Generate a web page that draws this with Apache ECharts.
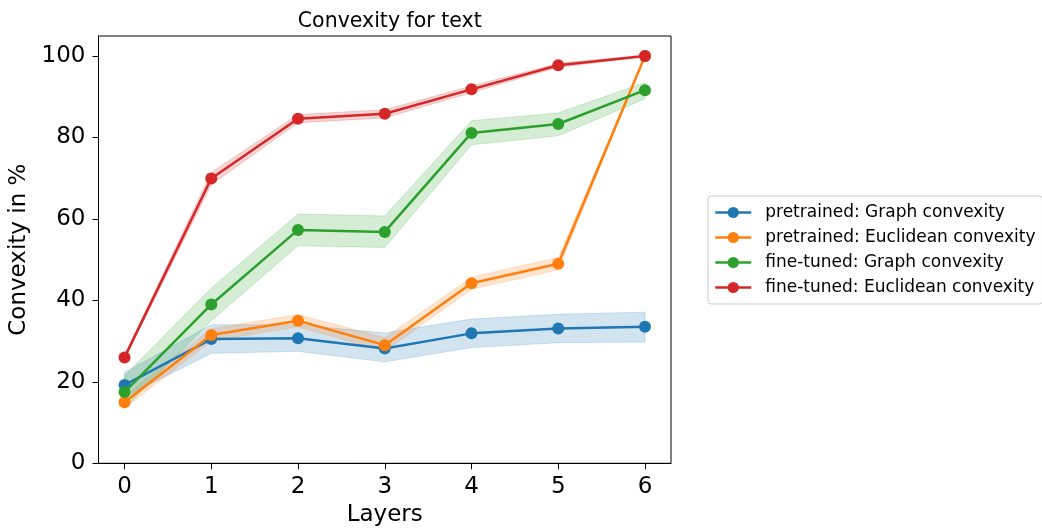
<!DOCTYPE html>
<html>
<head>
<meta charset="utf-8">
<script src="https://cdn.jsdelivr.net/npm/echarts@6/dist/echarts.min.js"></script>
<style>
  html, body { margin: 0; padding: 0; background: #fff; }
  #chart { width: 1042px; height: 529px; }
</style>
</head>
<body>
<div id="chart"></div>
<script>
// Layers on the x axis and tick values
const layers = [0, 1, 2, 3, 4, 5, 6];
const xTicks = [0, 1, 2, 3, 4, 5, 6];
const yTicks = [0, 20, 40, 60, 80, 100];

const seriesNames = [
  'pretrained: Graph convexity',
  'pretrained: Euclidean convexity',
  'fine-tuned: Graph convexity',
  'fine-tuned: Euclidean convexity'
];

// Mean convexity (%) per layer
const ptGraph     = [19.2, 30.5, 30.7, 28.2, 31.9, 33.1, 33.5];
const ptEuclid    = [15.0, 31.5, 35.0, 29.0, 44.2, 49.0, 100.0];
const ftGraph     = [17.5, 39.0, 57.3, 56.8, 81.1, 83.3, 91.6];
const ftEuclid    = [26.0, 69.9, 84.6, 85.8, 91.8, 97.7, 100.0];

// Spread bands (lower / upper) per layer
const ptGraphLo   = [16.3, 27.0, 27.5, 24.9, 28.4, 29.6, 29.8];
const ptGraphHi   = [22.3, 34.0, 34.0, 32.0, 35.4, 36.6, 37.1];
const ptEuclidLo  = [13.5, 30.0, 33.5, 27.5, 42.7, 47.5, 99.8];
const ptEuclidHi  = [16.5, 33.0, 36.5, 30.8, 45.7, 50.5, 100.0];
const ftGraphLo   = [13.5, 35.0, 53.4, 53.0, 78.2, 80.4, 89.5];
const ftGraphHi   = [21.5, 43.0, 61.2, 60.7, 84.1, 86.0, 93.5];
const ftEuclidLo  = [25.5, 68.4, 83.6, 84.8, 91.0, 97.2, 99.8];
const ftEuclidHi  = [26.5, 71.4, 85.6, 86.8, 92.6, 98.2, 100.2];

const colors = ['#1f77b4', '#ff7f0e', '#2ca02c', '#d62728'];
const means = [ptGraph, ptEuclid, ftGraph, ftEuclid];
const lows = [ptGraphLo, ptEuclidLo, ftGraphLo, ftEuclidLo];
const highs = [ptGraphHi, ptEuclidHi, ftGraphHi, ftEuclidHi];

const FONT = 'DejaVu Sans';

function hexToRgba(hex, a) {
  const n = parseInt(hex.slice(1), 16);
  return 'rgba(' + ((n >> 16) & 255) + ',' + ((n >> 8) & 255) + ',' + (n & 255) + ',' + a + ')';
}

// Shaded band drawn as one polygon through the axis scales
function bandSeries(idx) {
  const rows = layers.map((x, i) => [x, lows[idx][i], highs[idx][i]]);
  return {
    type: 'custom',
    name: 'band-' + idx,
    data: rows,
    encode: { x: 0, y: [1, 2] },
    z: 1,
    silent: true,
    renderItem: function (params, api) {
      if (params.dataIndexInside !== 0) return null;
      const upper = rows.map(r => api.coord([r[0], r[2]]));
      const lower = rows.map(r => api.coord([r[0], r[1]])).reverse();
      return {
        type: 'polygon',
        shape: { points: upper.concat(lower) },
        style: {
          fill: hexToRgba(colors[idx], 0.2),
          stroke: hexToRgba(colors[idx], 0.2),
          lineWidth: 1
        }
      };
    }
  };
}

function lineSeries(idx) {
  return {
    type: 'line',
    name: seriesNames[idx],
    data: layers.map((x, i) => [x, means[idx][i]]),
    symbol: 'circle',
    symbolSize: 12,
    showSymbol: true,
    z: 2 + idx,
    lineStyle: { width: 2.5, color: colors[idx] },
    itemStyle: { color: colors[idx] },
    emphasis: { disabled: true }
  };
}

const series = [];
for (let i = 0; i < 4; i++) series.push(bandSeries(i));
for (let i = 0; i < 4; i++) series.push(lineSeries(i));

const chart = echarts.init(document.getElementById('chart'), null, { renderer: 'canvas' });
chart.setOption({
  animation: false,
  backgroundColor: '#ffffff',
  title: {
    text: 'Convexity for text',
    left: 384.75,
    top: 6,
    textAlign: 'center',
    textStyle: { fontFamily: FONT, fontSize: 20.5, fontWeight: 'normal', color: '#000' }
  },
  grid: {
    left: 98.5,
    right: 371,
    top: 36,
    bottom: 65.7,
    show: true,
    borderColor: '#000',
    borderWidth: 1,
    containLabel: false,
    outerBoundsMode: 'none'
  },
  legend: {
    data: seriesNames,
    orient: 'vertical',
    left: 708,
    top: 196,
    padding: [8, 7, 8, 6],
    itemWidth: 36,
    itemHeight: 14,
    itemGap: 8,
    borderColor: '#cccccc',
    borderWidth: 1,
    borderRadius: 3,
    lineStyle: { width: 2.5 },
    textStyle: { fontFamily: FONT, fontSize: 17, color: '#000', lineHeight: 14, padding: [0, 0, 0, 9] }
  },
  xAxis: {
    type: 'value',
    min: -0.3,
    max: 6.3,
    name: 'Layers',
    nameLocation: 'middle',
    nameGap: 38,
    nameTextStyle: { fontFamily: FONT, fontSize: 23, color: '#000' },
    axisLine: { show: true, onZero: false, lineStyle: { color: '#000', width: 1 } },
    axisTick: { show: true, customValues: xTicks, length: 6, lineStyle: { color: '#000', width: 1 } },
    axisLabel: { customValues: xTicks, margin: 12, fontFamily: FONT, fontSize: 23, color: '#000' },
    splitLine: { show: false }
  },
  yAxis: {
    type: 'value',
    min: 0,
    max: 104.9,
    name: 'Convexity in %',
    nameLocation: 'middle',
    nameGap: 57,
    nameTextStyle: { fontFamily: FONT, fontSize: 23, color: '#000' },
    axisLine: { show: true, onZero: false, lineStyle: { color: '#000', width: 1 } },
    axisTick: { show: true, customValues: yTicks, length: 6, lineStyle: { color: '#000', width: 1 } },
    axisLabel: { customValues: yTicks, margin: 13, fontFamily: FONT, fontSize: 23, color: '#000' },
    splitLine: { show: false }
  },
  series: series
});
</script>
</body>
</html>
